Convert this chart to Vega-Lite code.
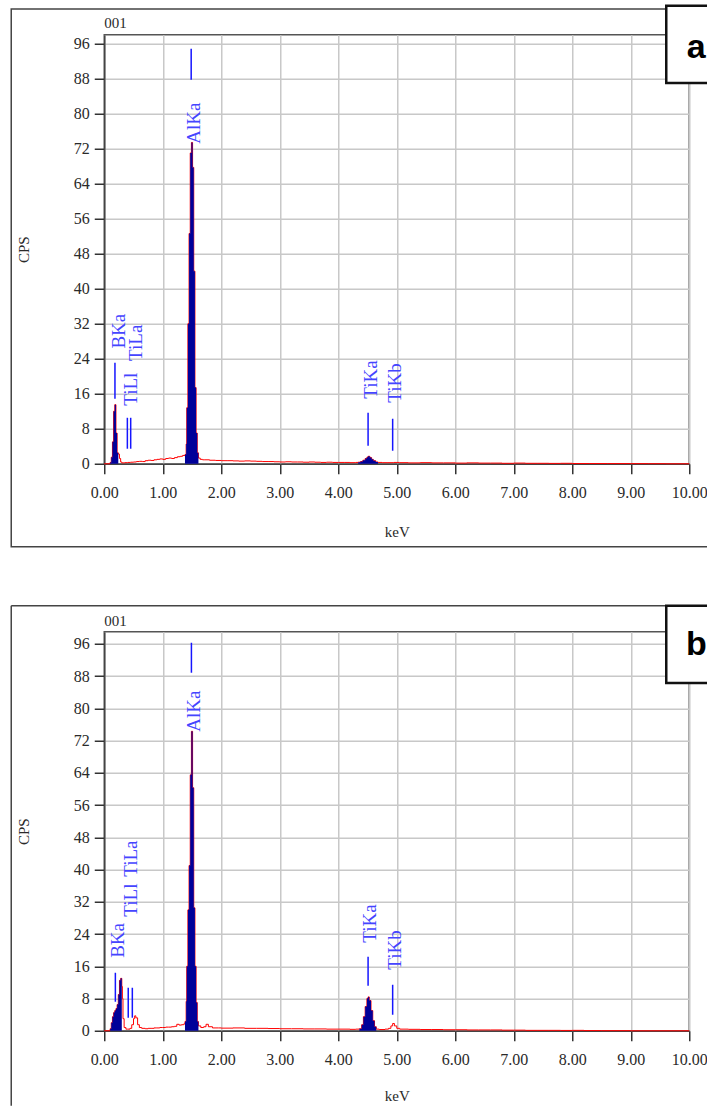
{
  "$schema": "https://vega.github.io/schema/vega-lite/v6.json",
  "padding": {"left": 9.25, "top": 3.75, "right": 0, "bottom": 0},
  "spacing": 55,
  "background": "white",
  "config": {
    "font": "Liberation Serif",
    "view": {"stroke": "#555555", "strokeWidth": 1.5},
    "axis": {
      "grid": true, "gridColor": "#c8c8c8", "gridWidth": 1.5,
      "domainColor": "#444444", "domainWidth": 1.5,
      "tickColor": "#333333", "tickSize": 10, "tickWidth": 1.5,
      "labelFont": "Liberation Serif", "labelFontSize": 16, "labelColor": "#2a2a2a", "labelOverlap": false,
      "titleFont": "Liberation Serif", "titleFontSize": 15, "titleFontWeight": "normal", "titleColor": "#2a2a2a"
    }
  },
  "datasets": {
    "specA": [
      {"e": 0.00, "cps": 0, "roi": ""}, {"e": 0.08, "cps": 0, "roi": ""},
      {"e": 0.10, "cps": 0.3, "roi": "B"}, {"e": 0.12, "cps": 1.5, "roi": "B"}, {"e": 0.14, "cps": 5, "roi": "B"}, {"e": 0.16, "cps": 12, "roi": "B"}, {"e": 0.18, "cps": 13.5, "roi": "B"}, {"e": 0.20, "cps": 7, "roi": "B"}, {"e": 0.22, "cps": 2.5, "roi": "B"}, {"e": 0.24, "cps": 2.2, "roi": "B"},
      {"e": 0.26, "cps": 1.2, "roi": ""}, {"e": 0.28, "cps": 0.4, "roi": ""}, {"e": 0.30, "cps": 0.2, "roi": ""}, {"e": 0.35, "cps": 0.25, "roi": ""}, {"e": 0.40, "cps": 0.3, "roi": ""}, {"e": 0.45, "cps": 0.35, "roi": ""}, {"e": 0.50, "cps": 0.4, "roi": ""}, {"e": 0.55, "cps": 0.5, "roi": ""}, {"e": 0.60, "cps": 0.55, "roi": ""}, {"e": 0.65, "cps": 0.5, "roi": ""}, {"e": 0.70, "cps": 0.7, "roi": ""}, {"e": 0.75, "cps": 0.8, "roi": ""}, {"e": 0.80, "cps": 0.75, "roi": ""}, {"e": 0.85, "cps": 0.9, "roi": ""}, {"e": 0.90, "cps": 1.0, "roi": ""}, {"e": 0.95, "cps": 1.1, "roi": ""}, {"e": 1.00, "cps": 1.0, "roi": ""}, {"e": 1.05, "cps": 1.2, "roi": ""}, {"e": 1.10, "cps": 1.3, "roi": ""}, {"e": 1.15, "cps": 1.2, "roi": ""}, {"e": 1.20, "cps": 1.4, "roi": ""}, {"e": 1.25, "cps": 1.6, "roi": ""}, {"e": 1.30, "cps": 1.7, "roi": ""}, {"e": 1.34, "cps": 1.9, "roi": ""},
      {"e": 1.38, "cps": 2.1, "roi": "Al"}, {"e": 1.40, "cps": 4.5, "roi": "Al"}, {"e": 1.41, "cps": 12.8, "roi": "Al"}, {"e": 1.43, "cps": 32, "roi": "Al"}, {"e": 1.45, "cps": 52.6, "roi": "Al"}, {"e": 1.47, "cps": 71, "roi": "Al"}, {"e": 1.49, "cps": 73.4, "roi": "Al"}, {"e": 1.51, "cps": 67.7, "roi": "Al"}, {"e": 1.53, "cps": 44, "roi": "Al"}, {"e": 1.55, "cps": 17.4, "roi": "Al"}, {"e": 1.57, "cps": 7, "roi": "Al"}, {"e": 1.59, "cps": 2.5, "roi": "Al"}, {"e": 1.61, "cps": 1.3, "roi": "Al"},
      {"e": 1.64, "cps": 1.0, "roi": ""}, {"e": 1.68, "cps": 0.9, "roi": ""}, {"e": 1.72, "cps": 0.9, "roi": ""}, {"e": 1.80, "cps": 0.8, "roi": ""}, {"e": 1.90, "cps": 0.75, "roi": ""}, {"e": 2.00, "cps": 0.7, "roi": ""}, {"e": 2.10, "cps": 0.7, "roi": ""}, {"e": 2.20, "cps": 0.65, "roi": ""}, {"e": 2.30, "cps": 0.6, "roi": ""}, {"e": 2.40, "cps": 0.65, "roi": ""}, {"e": 2.50, "cps": 0.6, "roi": ""}, {"e": 2.60, "cps": 0.55, "roi": ""}, {"e": 2.70, "cps": 0.5, "roi": ""}, {"e": 2.80, "cps": 0.5, "roi": ""}, {"e": 2.90, "cps": 0.45, "roi": ""}, {"e": 3.00, "cps": 0.4, "roi": ""}, {"e": 3.10, "cps": 0.45, "roi": ""}, {"e": 3.20, "cps": 0.4, "roi": ""}, {"e": 3.30, "cps": 0.4, "roi": ""}, {"e": 3.40, "cps": 0.35, "roi": ""}, {"e": 3.50, "cps": 0.4, "roi": ""}, {"e": 3.60, "cps": 0.35, "roi": ""}, {"e": 3.70, "cps": 0.3, "roi": ""}, {"e": 3.80, "cps": 0.35, "roi": ""}, {"e": 3.90, "cps": 0.3, "roi": ""}, {"e": 4.00, "cps": 0.3, "roi": ""}, {"e": 4.10, "cps": 0.3, "roi": ""}, {"e": 4.20, "cps": 0.25, "roi": ""}, {"e": 4.30, "cps": 0.3, "roi": ""},
      {"e": 4.34, "cps": 0.35, "roi": "Ti"}, {"e": 4.38, "cps": 0.5, "roi": "Ti"}, {"e": 4.42, "cps": 0.8, "roi": "Ti"}, {"e": 4.46, "cps": 1.2, "roi": "Ti"}, {"e": 4.49, "cps": 1.5, "roi": "Ti"}, {"e": 4.51, "cps": 1.7, "roi": "Ti"}, {"e": 4.54, "cps": 1.4, "roi": "Ti"}, {"e": 4.57, "cps": 1.0, "roi": "Ti"}, {"e": 4.60, "cps": 0.7, "roi": "Ti"}, {"e": 4.64, "cps": 0.4, "roi": "Ti"}, {"e": 4.68, "cps": 0.3, "roi": "Ti"},
      {"e": 4.75, "cps": 0.25, "roi": ""}, {"e": 4.85, "cps": 0.25, "roi": ""}, {"e": 4.95, "cps": 0.3, "roi": ""}, {"e": 5.05, "cps": 0.25, "roi": ""}, {"e": 5.20, "cps": 0.2, "roi": ""}, {"e": 5.40, "cps": 0.25, "roi": ""}, {"e": 5.60, "cps": 0.2, "roi": ""}, {"e": 5.80, "cps": 0.2, "roi": ""}, {"e": 6.00, "cps": 0.15, "roi": ""}, {"e": 6.20, "cps": 0.2, "roi": ""}, {"e": 6.40, "cps": 0.15, "roi": ""}, {"e": 6.60, "cps": 0.15, "roi": ""}, {"e": 6.80, "cps": 0.1, "roi": ""}, {"e": 7.00, "cps": 0.15, "roi": ""}, {"e": 7.20, "cps": 0.1, "roi": ""}, {"e": 7.40, "cps": 0.1, "roi": ""}, {"e": 7.60, "cps": 0.08, "roi": ""}, {"e": 7.80, "cps": 0.1, "roi": ""}, {"e": 8.00, "cps": 0.05, "roi": ""}, {"e": 8.30, "cps": 0.05, "roi": ""}, {"e": 8.60, "cps": 0.04, "roi": ""}, {"e": 9.00, "cps": 0.03, "roi": ""}, {"e": 9.30, "cps": 0.02, "roi": ""}, {"e": 9.60, "cps": 0, "roi": ""}, {"e": 10.00, "cps": 0, "roi": ""}
    ],
    "specB": [
      {"e": 0.00, "cps": 0, "roi": ""}, {"e": 0.08, "cps": 0, "roi": ""},
      {"e": 0.10, "cps": 0.5, "roi": "B"}, {"e": 0.12, "cps": 2, "roi": "B"}, {"e": 0.14, "cps": 3.5, "roi": "B"}, {"e": 0.16, "cps": 4.5, "roi": "B"}, {"e": 0.18, "cps": 5, "roi": "B"}, {"e": 0.20, "cps": 5.5, "roi": "B"}, {"e": 0.22, "cps": 6.5, "roi": "B"}, {"e": 0.24, "cps": 9, "roi": "B"}, {"e": 0.26, "cps": 12.5, "roi": "B"}, {"e": 0.28, "cps": 13, "roi": "B"}, {"e": 0.30, "cps": 11, "roi": "B"},
      {"e": 0.31, "cps": 8, "roi": ""}, {"e": 0.32, "cps": 3, "roi": ""}, {"e": 0.34, "cps": 0.8, "roi": ""}, {"e": 0.37, "cps": 0.4, "roi": ""}, {"e": 0.40, "cps": 0.4, "roi": ""}, {"e": 0.44, "cps": 0.6, "roi": ""}, {"e": 0.47, "cps": 1.5, "roi": ""}, {"e": 0.50, "cps": 3, "roi": ""}, {"e": 0.52, "cps": 3.7, "roi": ""}, {"e": 0.54, "cps": 3.2, "roi": ""}, {"e": 0.57, "cps": 1.5, "roi": ""}, {"e": 0.60, "cps": 0.8, "roi": ""}, {"e": 0.64, "cps": 0.6, "roi": ""}, {"e": 0.70, "cps": 0.5, "roi": ""}, {"e": 0.75, "cps": 0.6, "roi": ""}, {"e": 0.80, "cps": 0.6, "roi": ""}, {"e": 0.85, "cps": 0.7, "roi": ""}, {"e": 0.90, "cps": 0.7, "roi": ""}, {"e": 0.95, "cps": 0.8, "roi": ""}, {"e": 1.00, "cps": 0.8, "roi": ""}, {"e": 1.05, "cps": 0.9, "roi": ""}, {"e": 1.10, "cps": 0.9, "roi": ""}, {"e": 1.15, "cps": 1.0, "roi": ""}, {"e": 1.20, "cps": 1.1, "roi": ""}, {"e": 1.24, "cps": 1.6, "roi": ""}, {"e": 1.28, "cps": 1.4, "roi": ""}, {"e": 1.32, "cps": 1.5, "roi": ""}, {"e": 1.36, "cps": 1.7, "roi": ""},
      {"e": 1.38, "cps": 2.3, "roi": "Al"}, {"e": 1.40, "cps": 7.3, "roi": "Al"}, {"e": 1.41, "cps": 16, "roi": "Al"}, {"e": 1.43, "cps": 30, "roi": "Al"}, {"e": 1.45, "cps": 41, "roi": "Al"}, {"e": 1.47, "cps": 63.5, "roi": "Al"}, {"e": 1.49, "cps": 74.3, "roi": "Al"}, {"e": 1.51, "cps": 60.3, "roi": "Al"}, {"e": 1.53, "cps": 30.5, "roi": "Al"}, {"e": 1.55, "cps": 16, "roi": "Al"}, {"e": 1.57, "cps": 7, "roi": "Al"}, {"e": 1.59, "cps": 2.3, "roi": "Al"}, {"e": 1.61, "cps": 1.2, "roi": "Al"},
      {"e": 1.65, "cps": 0.8, "roi": ""}, {"e": 1.70, "cps": 1.0, "roi": ""}, {"e": 1.74, "cps": 1.6, "roi": ""}, {"e": 1.78, "cps": 1.0, "roi": ""}, {"e": 1.85, "cps": 0.7, "roi": ""}, {"e": 1.95, "cps": 0.7, "roi": ""}, {"e": 2.00, "cps": 0.65, "roi": ""}, {"e": 2.20, "cps": 0.7, "roi": ""}, {"e": 2.40, "cps": 0.6, "roi": ""}, {"e": 2.60, "cps": 0.6, "roi": ""}, {"e": 2.80, "cps": 0.55, "roi": ""}, {"e": 3.00, "cps": 0.5, "roi": ""}, {"e": 3.20, "cps": 0.5, "roi": ""}, {"e": 3.40, "cps": 0.45, "roi": ""}, {"e": 3.60, "cps": 0.45, "roi": ""}, {"e": 3.80, "cps": 0.4, "roi": ""}, {"e": 4.00, "cps": 0.4, "roi": ""}, {"e": 4.20, "cps": 0.35, "roi": ""}, {"e": 4.30, "cps": 0.4, "roi": ""},
      {"e": 4.36, "cps": 0.5, "roi": "Ti"}, {"e": 4.40, "cps": 1.5, "roi": "Ti"}, {"e": 4.43, "cps": 3.5, "roi": "Ti"}, {"e": 4.46, "cps": 6, "roi": "Ti"}, {"e": 4.49, "cps": 8, "roi": "Ti"}, {"e": 4.51, "cps": 8.4, "roi": "Ti"}, {"e": 4.53, "cps": 7.5, "roi": "Ti"}, {"e": 4.56, "cps": 5, "roi": "Ti"}, {"e": 4.59, "cps": 2.5, "roi": "Ti"}, {"e": 4.62, "cps": 1, "roi": "Ti"}, {"e": 4.65, "cps": 0.4, "roi": "Ti"},
      {"e": 4.70, "cps": 0.3, "roi": ""}, {"e": 4.80, "cps": 0.4, "roi": ""}, {"e": 4.86, "cps": 0.6, "roi": ""}, {"e": 4.90, "cps": 1.2, "roi": ""}, {"e": 4.93, "cps": 1.8, "roi": ""}, {"e": 4.96, "cps": 1.2, "roi": ""}, {"e": 5.00, "cps": 0.6, "roi": ""}, {"e": 5.05, "cps": 0.4, "roi": ""}, {"e": 5.20, "cps": 0.35, "roi": ""}, {"e": 5.40, "cps": 0.3, "roi": ""}, {"e": 5.60, "cps": 0.3, "roi": ""}, {"e": 5.80, "cps": 0.25, "roi": ""}, {"e": 6.00, "cps": 0.25, "roi": ""}, {"e": 6.20, "cps": 0.2, "roi": ""}, {"e": 6.40, "cps": 0.2, "roi": ""}, {"e": 6.60, "cps": 0.2, "roi": ""}, {"e": 6.80, "cps": 0.15, "roi": ""}, {"e": 7.00, "cps": 0.15, "roi": ""}, {"e": 7.20, "cps": 0.1, "roi": ""}, {"e": 7.40, "cps": 0.1, "roi": ""}, {"e": 7.60, "cps": 0.1, "roi": ""}, {"e": 7.80, "cps": 0.08, "roi": ""}, {"e": 8.00, "cps": 0.1, "roi": ""}, {"e": 8.20, "cps": 0.05, "roi": ""}, {"e": 8.50, "cps": 0.03, "roi": ""}, {"e": 9.00, "cps": 0, "roi": ""}, {"e": 10.00, "cps": 0, "roi": ""}
    ],
    "markA": [
      {"name": "BKa", "e": 0.183, "lo": 14.85, "hi": 23.07, "lx": 0.256, "ly": 26.3},
      {"name": "TiLl", "e": 0.395, "lo": 3.43, "hi": 10.5, "lx": 0.46, "ly": 13.25},
      {"name": "TiLa", "e": 0.452, "lo": 3.43, "hi": 10.5, "lx": 0.547, "ly": 23.5},
      {"name": "AlKa", "e": 1.486, "lo": 87.7, "hi": 94.8, "lx": 1.538, "ly": 73.1},
      {"name": "TiKa", "e": 4.51, "lo": 4.11, "hi": 11.65, "lx": 4.556, "ly": 14.85},
      {"name": "TiKb", "e": 4.93, "lo": 2.97, "hi": 10.28, "lx": 4.974, "ly": 13.93}
    ],
    "markB": [
      {"name": "BKa", "e": 0.19, "lo": 7.2, "hi": 14.39, "lx": 0.239, "ly": 18.1},
      {"name": "TiLl", "e": 0.41, "lo": 3.23, "hi": 10.67, "lx": 0.46, "ly": 28.3},
      {"name": "TiLa", "e": 0.48, "lo": 3.23, "hi": 10.67, "lx": 0.46, "ly": 38.2},
      {"name": "AlKa", "e": 1.49, "lo": 88.83, "hi": 96.27, "lx": 1.538, "ly": 74.2},
      {"name": "TiKa", "e": 4.51, "lo": 11.17, "hi": 18.36, "lx": 4.547, "ly": 21.83},
      {"name": "TiKb", "e": 4.93, "lo": 3.97, "hi": 11.41, "lx": 4.974, "ly": 15.14}
    ]
  },
  "vconcat": [
    {
      "width": 585, "height": 429,
      "layer": [
        {
          "data": {"name": "specA"},
          "mark": {"type": "line", "color": "#ff0000", "strokeWidth": 1, "interpolate": "step-after"},
          "encoding": {
            "x": {"field": "e", "type": "quantitative", "scale": {"domain": [0, 10], "nice": false}, "axis": {"values": [0,1,2,3,4,5,6,7,8,9,10], "tickCount": 20, "format": ".2f", "title": "keV", "labelPadding": 11, "titlePadding": 24, "labelFlush": false, "labelOverlap": false}},
            "y": {"field": "cps", "type": "quantitative", "scale": {"domain": [0, 98], "nice": false}, "axis": {"values": [0,8,16,24,32,40,48,56,64,72,80,88,96], "tickCount": 20, "title": "CPS", "labelPadding": 5, "titlePadding": 42, "labelOverlap": false}}
          }
        },
        {
          "data": {"name": "specA"},
          "transform": [{"filter": "datum.roi != ''"}],
          "mark": {"type": "area", "color": "#000099", "interpolate": "step-after"},
          "encoding": {"x": {"field": "e", "type": "quantitative"}, "y": {"field": "cps", "type": "quantitative", "stack": null}, "detail": {"field": "roi"}}
        },
        {
          "data": {"name": "markA"},
          "mark": {"type": "rule", "color": "#1515ff", "strokeWidth": 1.5},
          "encoding": {"x": {"field": "e", "type": "quantitative"}, "y": {"field": "lo", "type": "quantitative"}, "y2": {"field": "hi"}}
        },
        {
          "data": {"name": "markA"},
          "mark": {"type": "text", "angle": 270, "align": "left", "baseline": "middle", "font": "Liberation Serif", "fontSize": 19, "color": "#4545ff"},
          "encoding": {"x": {"field": "lx", "type": "quantitative"}, "y": {"field": "ly", "type": "quantitative"}, "text": {"field": "name"}}
        },
        {
          "data": {"values": [{}]},
          "mark": {"type": "rect", "fillOpacity": 0, "stroke": "#444444", "strokeWidth": 1.5, "clip": false},
          "encoding": {"x": {"datum": -1.59}, "x2": {"datum": 10.342}, "y": {"datum": -18.96}, "y2": {"datum": 103.9}}
        },
        {
          "data": {"values": [{}]},
          "mark": {"type": "text", "font": "Liberation Serif", "fontSize": 15, "align": "left", "baseline": "middle", "color": "#2a2a2a", "clip": false},
          "encoding": {"x": {"datum": 0}, "y": {"datum": 100.7}, "text": {"value": "001"}}
        },
        {
          "data": {"values": [{}]},
          "mark": {"type": "rect", "fill": "white", "stroke": "#111111", "strokeWidth": 2.5, "clip": false},
          "encoding": {"x": {"datum": 9.607}, "x2": {"datum": 10.718}, "y": {"datum": 87.0}, "y2": {"datum": 104.6}}
        },
        {
          "data": {"values": [{}]},
          "mark": {"type": "text", "font": "Liberation Sans", "fontWeight": "bold", "fontSize": 34, "align": "center", "baseline": "middle", "color": "#000000", "clip": false},
          "encoding": {"x": {"datum": 10.12}, "y": {"datum": 95.0}, "text": {"value": "a"}}
        }
      ]
    },
    {
      "width": 585, "height": 399,
      "layer": [
        {
          "data": {"name": "specB"},
          "mark": {"type": "line", "color": "#ff0000", "strokeWidth": 1, "interpolate": "step-after"},
          "encoding": {
            "x": {"field": "e", "type": "quantitative", "scale": {"domain": [0, 10], "nice": false}, "axis": {"values": [0,1,2,3,4,5,6,7,8,9,10], "tickCount": 20, "format": ".2f", "title": "keV", "labelPadding": 11, "titlePadding": 21, "labelFlush": false, "labelOverlap": false}},
            "y": {"field": "cps", "type": "quantitative", "scale": {"domain": [0, 99], "nice": false}, "axis": {"values": [0,8,16,24,32,40,48,56,64,72,80,88,96], "tickCount": 20, "title": "CPS", "labelPadding": 5, "titlePadding": 42, "labelOverlap": false}}
          }
        },
        {
          "data": {"name": "specB"},
          "transform": [{"filter": "datum.roi != ''"}],
          "mark": {"type": "area", "color": "#000099", "interpolate": "step-after"},
          "encoding": {"x": {"field": "e", "type": "quantitative"}, "y": {"field": "cps", "type": "quantitative", "stack": null}, "detail": {"field": "roi"}}
        },
        {
          "data": {"name": "markB"},
          "mark": {"type": "rule", "color": "#1515ff", "strokeWidth": 1.5},
          "encoding": {"x": {"field": "e", "type": "quantitative"}, "y": {"field": "lo", "type": "quantitative"}, "y2": {"field": "hi"}}
        },
        {
          "data": {"name": "markB"},
          "mark": {"type": "text", "angle": 270, "align": "left", "baseline": "middle", "font": "Liberation Serif", "fontSize": 19, "color": "#4545ff"},
          "encoding": {"x": {"field": "lx", "type": "quantitative"}, "y": {"field": "ly", "type": "quantitative"}, "text": {"field": "name"}}
        },
        {
          "data": {"values": [{}]},
          "mark": {"type": "rule", "color": "#444444", "strokeWidth": 1.5, "clip": false},
          "encoding": {"x": {"datum": -1.59}, "y": {"datum": -18.6}, "y2": {"datum": 105.45}}
        },
        {
          "data": {"values": [{}]},
          "mark": {"type": "rule", "color": "#444444", "strokeWidth": 1.5, "clip": false},
          "encoding": {"x": {"datum": -1.59}, "x2": {"datum": 10.342}, "y": {"datum": 105.45}}
        },
        {
          "data": {"values": [{}]},
          "mark": {"type": "text", "font": "Liberation Serif", "fontSize": 15, "align": "left", "baseline": "middle", "color": "#2a2a2a", "clip": false},
          "encoding": {"x": {"datum": 0}, "y": {"datum": 101.7}, "text": {"value": "001"}}
        },
        {
          "data": {"values": [{}]},
          "mark": {"type": "rect", "fill": "white", "stroke": "#111111", "strokeWidth": 2.5, "clip": false},
          "encoding": {"x": {"datum": 9.607}, "x2": {"datum": 10.718}, "y": {"datum": 86.3}, "y2": {"datum": 105.45}}
        },
        {
          "data": {"values": [{}]},
          "mark": {"type": "text", "font": "Liberation Sans", "fontWeight": "bold", "fontSize": 34, "align": "center", "baseline": "middle", "color": "#000000", "clip": false},
          "encoding": {"x": {"datum": 10.12}, "y": {"datum": 95.8}, "text": {"value": "b"}}
        }
      ]
    }
  ]
}
